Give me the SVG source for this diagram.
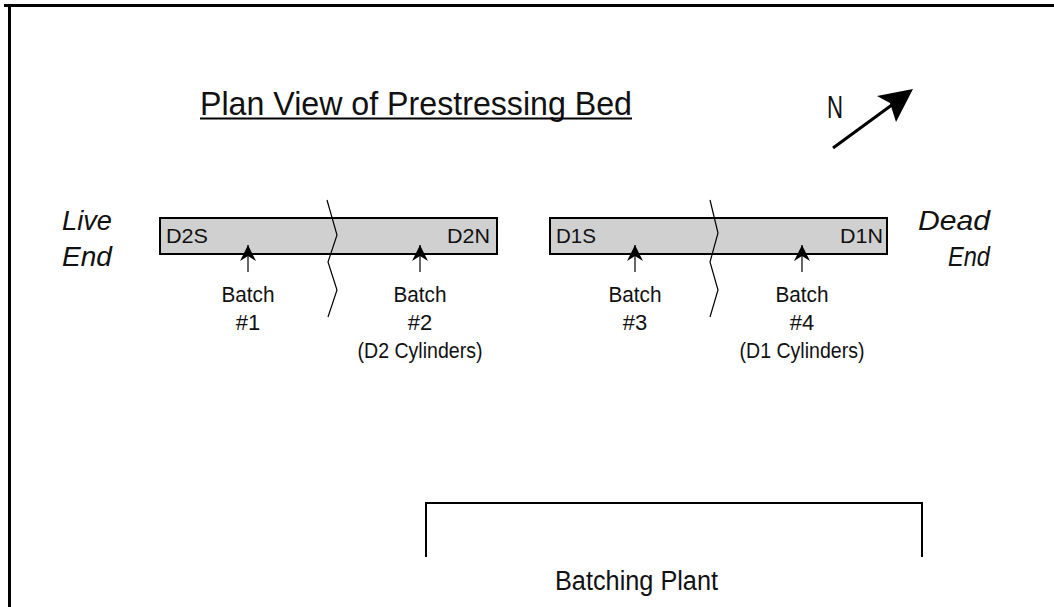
<svg xmlns="http://www.w3.org/2000/svg" width="1054" height="607" viewBox="0 0 1054 607">
<defs>
<style>
text{font-family:"Liberation Sans",Arial,sans-serif;fill:#111;}
.lbl{font-size:22px;text-anchor:middle;}
.bed{fill:#d0d0d0;stroke:#000;stroke-width:2;}
.brk{fill:none;stroke:#000;stroke-width:1.2;}
.ptr{stroke:#000;stroke-width:1.2;fill:none;}
.side{font-size:28px;font-style:italic;}
</style>
<marker id="ah" viewBox="0 0 16 16" refX="16" refY="8" markerWidth="16" markerHeight="16" markerUnits="userSpaceOnUse" orient="auto">
<path d="M0,0 L16,8 L0,16 L5,8 Z" fill="#000"/>
</marker>
</defs>
<rect width="1054" height="607" fill="#fff"/>
<g id="frame">
<line x1="4" y1="5.5" x2="1054" y2="5.5" stroke="#000" stroke-width="3"/>
<line x1="9.5" y1="4" x2="9.5" y2="607" stroke="#000" stroke-width="3"/>
</g>
<g id="title">
<text x="200" y="115" font-size="34" textLength="432" lengthAdjust="spacingAndGlyphs">Plan View of Prestressing Bed</text>
<line x1="200" y1="118.5" x2="632" y2="118.5" stroke="#000" stroke-width="2"/>
</g>
<g id="north">
<text x="827" y="118" font-size="31" textLength="16" lengthAdjust="spacingAndGlyphs">N</text>
<line x1="833" y1="148" x2="900" y2="99" stroke="#000" stroke-width="3"/>
<path d="M913,89 L877,96 L890,103 L896,122 Z" fill="#000"/>
</g>
<g id="live-end">
<text class="side" x="62" y="230" textLength="50" lengthAdjust="spacingAndGlyphs">Live</text>
<text class="side" x="62" y="266" textLength="50" lengthAdjust="spacingAndGlyphs">End</text>
</g>
<g id="dead-end">
<text class="side" x="918" y="230" textLength="72" lengthAdjust="spacingAndGlyphs">Dead</text>
<text class="side" x="948" y="266" textLength="42" lengthAdjust="spacingAndGlyphs">End</text>
</g>
<g id="bed-d2">
<rect class="bed" x="160" y="218" width="337" height="36"/>
<text x="166" y="243" font-size="21" textLength="42" lengthAdjust="spacingAndGlyphs">D2S</text>
<text x="447" y="243" font-size="21" textLength="43" lengthAdjust="spacingAndGlyphs">D2N</text>
</g>
<g id="bed-d1">
<rect class="bed" x="550" y="218" width="337" height="36"/>
<text x="556" y="243" font-size="21" textLength="40" lengthAdjust="spacingAndGlyphs">D1S</text>
<text x="840" y="243" font-size="21" textLength="43" lengthAdjust="spacingAndGlyphs">D1N</text>
</g>
<g id="breaks">
<polyline class="brk" points="327,200 337,235 328,262 337,290 328,317"/>
<polyline class="brk" points="710,200 718,233 710,262 718,290 710,317"/>
</g>
<g id="connectors">
<line class="ptr" x1="248" y1="272" x2="248" y2="245" marker-end="url(#ah)"/>
<line class="ptr" x1="420" y1="272" x2="420" y2="245" marker-end="url(#ah)"/>
<line class="ptr" x1="635" y1="272" x2="635" y2="245" marker-end="url(#ah)"/>
<line class="ptr" x1="802" y1="272" x2="802" y2="245" marker-end="url(#ah)"/>
</g>
<g id="batch1">
<text class="lbl" x="248" y="302" textLength="53" lengthAdjust="spacingAndGlyphs">Batch</text>
<text class="lbl" x="248" y="330">#1</text>
</g>
<g id="batch2">
<text class="lbl" x="420" y="302" textLength="53" lengthAdjust="spacingAndGlyphs">Batch</text>
<text class="lbl" x="420" y="330">#2</text>
<text class="lbl" x="420" y="358" textLength="125" lengthAdjust="spacingAndGlyphs">(D2 Cylinders)</text>
</g>
<g id="batch3">
<text class="lbl" x="635" y="302" textLength="53" lengthAdjust="spacingAndGlyphs">Batch</text>
<text class="lbl" x="635" y="330">#3</text>
</g>
<g id="batch4">
<text class="lbl" x="802" y="302" textLength="53" lengthAdjust="spacingAndGlyphs">Batch</text>
<text class="lbl" x="802" y="330">#4</text>
<text class="lbl" x="802" y="358" textLength="125" lengthAdjust="spacingAndGlyphs">(D1 Cylinders)</text>
</g>
<g id="batching-plant">
<polyline points="426,557 426,503 922,503 922,557" fill="none" stroke="#000" stroke-width="2"/>
<text x="555" y="590" font-size="27" textLength="163" lengthAdjust="spacingAndGlyphs">Batching Plant</text>
</g>
</svg>
